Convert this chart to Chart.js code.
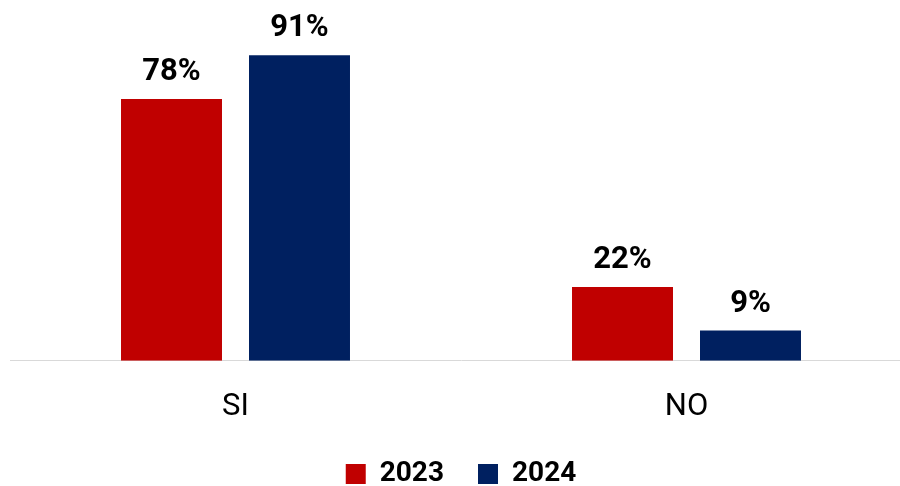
<!DOCTYPE html>
<html>
<head>
<meta charset="utf-8">
<script src="https://cdn.jsdelivr.net/npm/chart.js@4.4.0/dist/chart.umd.min.js"></script>
<style>
html,body{margin:0;padding:0;background:#fff;overflow:hidden;width:900px;height:486px;}
#wrap{width:912px;height:498px;position:relative;}
</style>
</head>
<body>
<div id="wrap"><canvas id="c"></canvas></div>
<script>
const categories = ["SI", "NO"];
const seriesNames = ["2023", "2024"];
const values2023 = [78, 22];
const values2024 = [91, 9];
const colors = ["#C00000", "#002060"];

const valueLabels = {
  id: 'valueLabels',
  afterDatasetsDraw(chart) {
    const ctx = chart.ctx;
    ctx.save();
    ctx.font = 'bold 31px Roboto';
    ctx.fillStyle = '#000';
    ctx.textAlign = 'center';
    ctx.textBaseline = 'alphabetic';
    chart.data.datasets.forEach((ds, i) => {
      const meta = chart.getDatasetMeta(i);
      meta.data.forEach((el, j) => {
        ctx.fillText(ds.data[j] + '%', el.x, el.y - 19);
      });
    });
    ctx.restore();
  }
};

new Chart(document.getElementById('c'), {
  type: 'bar',
  data: {
    labels: categories,
    datasets: [
      { label: seriesNames[0], data: values2023, backgroundColor: colors[0] },
      { label: seriesNames[1], data: values2024, backgroundColor: colors[1] }
    ]
  },
  options: {
    responsive: true,
    maintainAspectRatio: false,
    animation: false,
    categoryPercentage: 0.5676,
    barPercentage: 0.789,
    layout: { padding: { left: 10, right: 0, top: 25, bottom: 0 } },
    scales: {
      x: {
        grid: { display: false, drawTicks: false },
        border: { display: true, color: '#d9d9d9', width: 1 },
        ticks: { color: '#000', font: { family: 'Roboto', size: 31 }, padding: 28 },
        afterFit(scale) { scale.height -= 28; }
      },
      y: { display: false, min: 0, max: 100 }
    },
    plugins: {
      legend: {
        position: 'bottom',
        fullSize: false,
        labels: {
          color: '#000',
          font: { family: 'Roboto', size: 28, weight: 'bold' },
          boxWidth: 20,
          boxHeight: 20,
          padding: 34
        }
      },
      tooltip: { enabled: false }
    }
  },
  plugins: [valueLabels]
});
</script>
</body>
</html>
